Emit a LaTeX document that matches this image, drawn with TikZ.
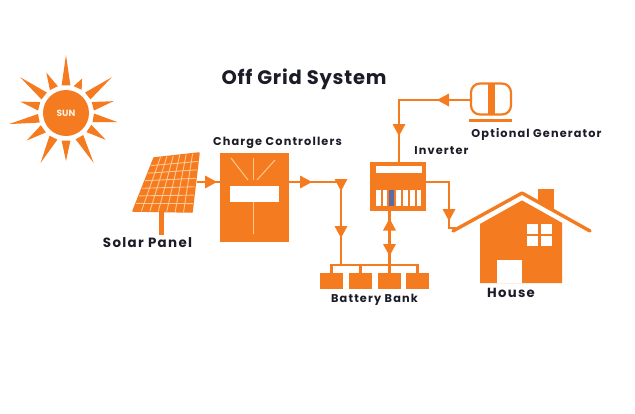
\documentclass[tikz,border=0pt]{standalone}
\usepackage{fontspec}
\setmainfont{Poppins}
\newfontfamily\lblfont[LetterSpace=10]{Poppins}
\newfontfamily\ttlfont[LetterSpace=4]{Poppins}
\usetikzlibrary{calc}
\definecolor{org}{HTML}{F57B20}
\definecolor{pale}{HTML}{FFC890}
\definecolor{ink}{HTML}{1C1C28}
\definecolor{slotblue}{HTML}{5A6AA8}
\tikzset{
  x=1pt,y=-1pt,
  wire/.style={draw=org,line width=2.8pt},
  lbl/.style={text=ink,font=\lblfont\bfseries\fontsize{11.3}{13}\selectfont,inner sep=0pt},
  window/.style={fill=white,draw=none,inner sep=0pt},
  paleline/.style={draw=pale,line width=1pt},
  batt/.style={fill=org,inner sep=0pt,minimum width=23pt,minimum height=16pt},
  tipfill/.style={fill=org,draw=none}
}
\newcommand{\tipR}[2]{\fill[tipfill] (#1-6,#2-6.5) -- (#1+6,#2) -- (#1-6,#2+6.5) -- cycle;}
\newcommand{\tipL}[2]{\fill[tipfill] (#1+6,#2-6.5) -- (#1-6,#2) -- (#1+6,#2+6.5) -- cycle;}
\newcommand{\tipD}[2]{\fill[tipfill] (#1-6.5,#2-6) -- (#1,#2+6) -- (#1+6.5,#2-6) -- cycle;}
\newcommand{\tipU}[2]{\fill[tipfill] (#1-6.5,#2+6) -- (#1,#2-6) -- (#1+6.5,#2+6) -- cycle;}
\begin{document}
\begin{tikzpicture}
\useasboundingbox (0,0) rectangle (635,413);
\fill[white] (0,0) rectangle (635,413);
% title
\node[text=ink,inner sep=0pt,font=\ttlfont\bfseries\fontsize{19.5}{22}\selectfont] (title) at (304,79.5) {Off Grid System};
% sun
\node[circle,fill=org,minimum size=46pt,inner sep=0pt,text=white!90!orange,font=\bfseries\fontsize{9}{10}\selectfont] (sun) at (66,113) {SUN};
\foreach \a/\r in {90/58,65/38,38/58,14/49,-10/52,-34/48,-61/57,-90/48,-117/56,-145/48,-169/58,166/47,142/58,116/45}{
  \fill[org] ({66+28*cos(\a-9)},{113-28*sin(\a-9)}) -- ({66+\r*cos(\a)},{113-\r*sin(\a)}) -- ({66+28*cos(\a+9)},{113-28*sin(\a+9)}) -- cycle;
}
% solar panel
\coordinate (pTL) at (154,158);
\coordinate (pTR) at (199,153);
\coordinate (pBR) at (192,212);
\coordinate (pBL) at (133,211);
\draw[org,line width=5pt] (161,211) -- (161,235);
\fill[org] (pTL) -- (pTR) -- (pBR) -- (pBL) -- cycle;
\draw[org,line width=1.5pt,line join=round] (pTL) -- (pTR) -- (pBR) -- (pBL) -- cycle;
\foreach \i in {1,...,6}{
  \draw[pale,line width=0.9pt] ($(pTL)!{\i/7}!(pTR)$) -- ($(pBL)!{\i/7}!(pBR)$);
  \draw[pale,line width=0.9pt] ($(pTL)!{\i/7}!(pBL)$) -- ($(pTR)!{\i/7}!(pBR)$);
}
\node[lbl,font=\lblfont\bfseries\fontsize{13.4}{15}\selectfont] (solarlbl) at (147.5,243) {Solar Panel};
% charge controller
\node[fill=org,inner sep=0pt,minimum width=69pt,minimum height=89pt] (ctrl) at (254.5,197.5) {};
\node[window,minimum width=49pt,minimum height=16pt] (ctrlwin) at (254.5,194) {};
\draw[paleline] (253,202) -- (253,234);
\draw[paleline] (253,158) -- (253,180);
\draw[paleline] (231,158) -- (248,180);
\draw[paleline] (275,160) -- (257,180);
\node[lbl] (ctrllbl) at (277.5,142.5) {Charge Controllers};
% wires
\coordinate (panelout) at (197,182);
\coordinate (junc) at (341,182);
\coordinate (genleft) at (470,100);
\coordinate (corner1) at (399,100);
\coordinate (c2) at (449,182);
\coordinate (c3) at (449,228);
\coordinate (roofend) at (456,228);
\draw[wire] (panelout) -- (ctrl.west |- panelout);
\tipR{211}{182}
\draw[wire] (ctrl.east |- junc) -- (junc);
\tipR{306}{182}
\tipD{341}{185}
% batteries
\node[batt] (b1) at (331.5,281) {};
\node[batt] (b2) at (360.5,281) {};
\node[batt] (b3) at (389.5,281) {};
\node[batt] (b4) at (417.5,281) {};
\coordinate (bus) at (389.5,265);
\draw[wire,line width=2.2pt] (b1.north) -- (b1.north |- bus) -- (b4.north |- bus) -- (b4.north);
\draw[wire,line width=2.2pt] (b2.north) -- (b2.north |- bus);
\draw[wire,line width=2.2pt] (b3.north) -- (b3.north |- bus);
\draw[wire] (junc) -- (junc |- bus);
\tipD{341}{232}
\node[lbl] (battlbl) at (374.5,299.5) {Battery Bank};
% inverter
\node[fill=org,inner sep=0pt,minimum width=56pt,minimum height=49pt] (inv) at (398,186.5) {};
\node[window,minimum width=46pt,minimum height=7pt] (invwin) at (399,169.5) {};
\foreach \n/\xx/\c in {1/378.5/white,2/385/white,3/391.5/slotblue,4/398.5/white,5/405.5/white,6/412.5/white,7/419/white}{
  \node[fill=\c,inner sep=0pt,minimum width=4.6pt,minimum height=16pt] (slot\n) at (\xx,198) {};
}
\node[lbl] (invlbl) at (441.5,151) {Inverter};
\draw[wire] (bus) -- (bus |- inv.south);
\tipU{389.5}{224.5}
\tipD{389.5}{250}
\draw[wire] (inv.north -| corner1) -- (corner1) -- (genleft);
\tipD{399}{130}
\tipL{443}{100}
% generator
\node[draw=org,line width=2.2pt,rounded corners=9pt,fill=white,inner sep=0pt,minimum width=40pt,minimum height=31pt] (gen) at (491,99) {};
\fill[org] (488,84) rectangle (495,115);
\draw[org,line width=3pt] (469,120) -- (512,120);
\node[lbl] (genlbl) at (536.5,134) {Optional Generator};
% house
\fill[org] (538,189) rectangle (554,210);
\fill[org] (480,222) -- (522,198) -- (562,222) -- (562,283) -- (480,283) -- cycle;
\draw[white,line width=6.5pt] (456,233.5) -- (522,196.5) -- (588,233.5);
\draw[org,line width=3.4pt,line cap=round,line join=round] (453,231) -- (522,193) -- (590,231);
\node[window,minimum width=25pt,minimum height=23pt] (door) at (509.5,271.5) {};
\node[window,minimum width=25pt,minimum height=22pt] (win) at (539.5,235) {};
\draw[org,line width=2.6pt] (win.north) -- (win.south);
\draw[org,line width=2.6pt] (win.west) -- (win.east);
\draw[wire] (inv.east |- c2) -- (c2) -- (c3) -- (roofend);
\tipD{449}{215}
\node[lbl,font=\lblfont\bfseries\fontsize{13.2}{15}\selectfont] (houselbl) at (511,292.5) {House};
\end{tikzpicture}
\end{document}
